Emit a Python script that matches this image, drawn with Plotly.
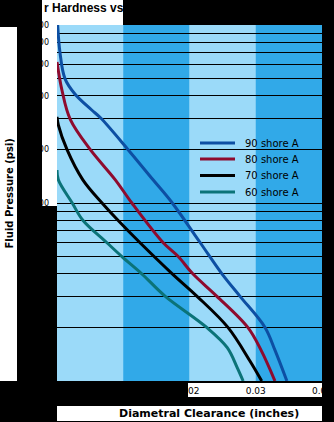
import plotly.graph_objects as go

# ---- data ----
series_names = ["90 shore A", "80 shore A", "70 shore A", "60 shore A"]
series_colors = ["#0D4FA3", "#8E0B2E", "#000000", "#0B7378"]

x_90 = [0.0001, 0.00045, 0.0012, 0.0027, 0.0052, 0.0066, 0.0107, 0.0145, 0.0174, 0.0216, 0.0249, 0.0276, 0.0314, 0.0329, 0.0347]
p_90 = [1000, 700, 500, 410, 334, 300, 200, 135, 100, 60, 40, 30, 20, 14.9, 10]

x_80 = [0.0, 0.00075, 0.002, 0.005, 0.0088, 0.0113, 0.016, 0.0183, 0.0205, 0.0241, 0.0288, 0.0308, 0.0329]
p_80 = [620, 430, 295, 200, 135, 100, 60, 50, 40, 30, 20, 14.9, 10]

x_70 = [0.0, 0.0002, 0.0015, 0.0039, 0.0068, 0.0092, 0.0125, 0.0174, 0.0211, 0.0258, 0.0291, 0.0309]
p_70 = [305, 275, 200, 135, 100, 80, 60, 40, 30, 20, 13, 10]

x_60 = [0.0, 0.0002, 0.0023, 0.0039, 0.0075, 0.0098, 0.0128, 0.0163, 0.0226, 0.0257, 0.0272, 0.0281]
p_60 = [153, 135, 100, 80, 60, 50, 40, 30, 20, 15.4, 11.9, 10]

x_tickvals = [0, 0.01, 0.02, 0.03, 0.04]
x_ticktext = ["0", "0.01", "0.02", "0.03", "0.04"]
y_tickvals = [10, 20, 30, 40, 50, 60, 70, 80, 90, 100, 200, 300, 400, 500, 600, 700, 800, 900, 1000]
y_ticktext = ["10", "20", "", "40", "", "60", "", "80", "", "100", "200", "", "400", "", "600", "", "800", "", "1000"]
band_edges = [0.0, 0.01, 0.02, 0.03, 0.04]
band_colors = ["#9BDAF9", "#31A9E8", "#9BDAF9", "#31A9E8"]

xs = [x_90, x_80, x_70, x_60]
ps = [p_90, p_80, p_70, p_60]

# ---- figure ----
W, H = 334, 422
L, R, T, B = 57, 12, 25, 41
PW, PH = W - L - R, H - T - B

def px_x(px):
    return (px - L) / PW

def px_y(py):
    return (H - B - py) / PH

fig = go.Figure()
for name, col, x, p in zip(series_names, series_colors, xs, ps):
    fig.add_trace(go.Scatter(x=x, y=p, name=name, mode="lines", showlegend=False,
                             line=dict(color=col, width=3, shape="spline", smoothing=1.0)))

shapes = []
for i in range(len(band_colors)):
    shapes.append(dict(type="rect", xref="x", yref="paper", x0=band_edges[i], x1=band_edges[i + 1],
                       y0=0, y1=1, fillcolor=band_colors[i], line=dict(width=0), layer="below"))

def white_box(x0, y0, x1, y1):
    return dict(type="rect", xref="paper", yref="paper", x0=px_x(x0), x1=px_x(x1),
                y0=px_y(y1), y1=px_y(y0), fillcolor="white", line=dict(width=0), layer="below")

shapes += [
    white_box(42, 0, 123, 25),      # title box
    white_box(0, 27, 17, 381),      # y title box
    white_box(42, 20, 57, 206),     # y tick label strip
    white_box(188, 383, 322, 397),  # x tick label box
    white_box(57, 406, 322, 421),   # x title box
]

annotations = [
    dict(text="r Hardness vs", xref="paper", yref="paper", x=px_x(42), y=px_y(8),
         xanchor="left", yanchor="middle", showarrow=False,
         font=dict(family="Liberation Sans", size=12, color="black", weight="bold")),
    dict(text="Fluid Pressure (psi)", xref="paper", yref="paper", x=px_x(8.5), y=px_y(194),
         xanchor="center", yanchor="middle", showarrow=False, textangle=-90,
         font=dict(family="DejaVu Sans", size=10, color="black", weight="bold")),
    dict(text="Diametral Clearance (inches)", xref="paper", yref="paper", x=px_x(209), y=px_y(413.5),
         xanchor="center", yanchor="middle", showarrow=False,
         font=dict(family="DejaVu Sans", size=11, color="black", weight="bold")),
]

# legend keys (drawn manually to match compact spacing)
legend_y = [143, 159, 175.5, 192]
for name, col, ly in zip(series_names, series_colors, legend_y):
    shapes.append(dict(type="line", xref="paper", yref="paper", x0=px_x(200), x1=px_x(235),
                       y0=px_y(ly), y1=px_y(ly), line=dict(color=col, width=3), layer="above"))
    annotations.append(dict(text=name, xref="paper", yref="paper", x=px_x(243), y=px_y(ly),
                            xanchor="left", yanchor="middle", showarrow=False,
                            font=dict(family="DejaVu Sans", size=10, color="black")))

fig.update_layout(
    width=W, height=H,
    margin=dict(l=L, r=R, t=T, b=B, pad=0, autoexpand=False),
    paper_bgcolor="black", plot_bgcolor="#9BDAF9",
    shapes=shapes, annotations=annotations,
    showlegend=False,
    font=dict(family="DejaVu Sans", size=10, color="black"),
)
fig.update_xaxes(range=[0, 0.04], tickvals=x_tickvals, ticktext=x_ticktext, showgrid=False,
                 zeroline=False, showline=False, ticks="", ticklabelstandoff=3, automargin=False,
                 tickfont=dict(family="DejaVu Sans", size=9, color="black"))
fig.update_yaxes(type="log", range=[1, 3], tickvals=y_tickvals, ticktext=y_ticktext,
                 showgrid=True, gridcolor="black", gridwidth=1, zeroline=False, showline=False,
                 ticks="", ticklabelstandoff=7, automargin=False,
                 tickfont=dict(family="DejaVu Sans", size=8, color="black"))

fig.write_html("out.html")
